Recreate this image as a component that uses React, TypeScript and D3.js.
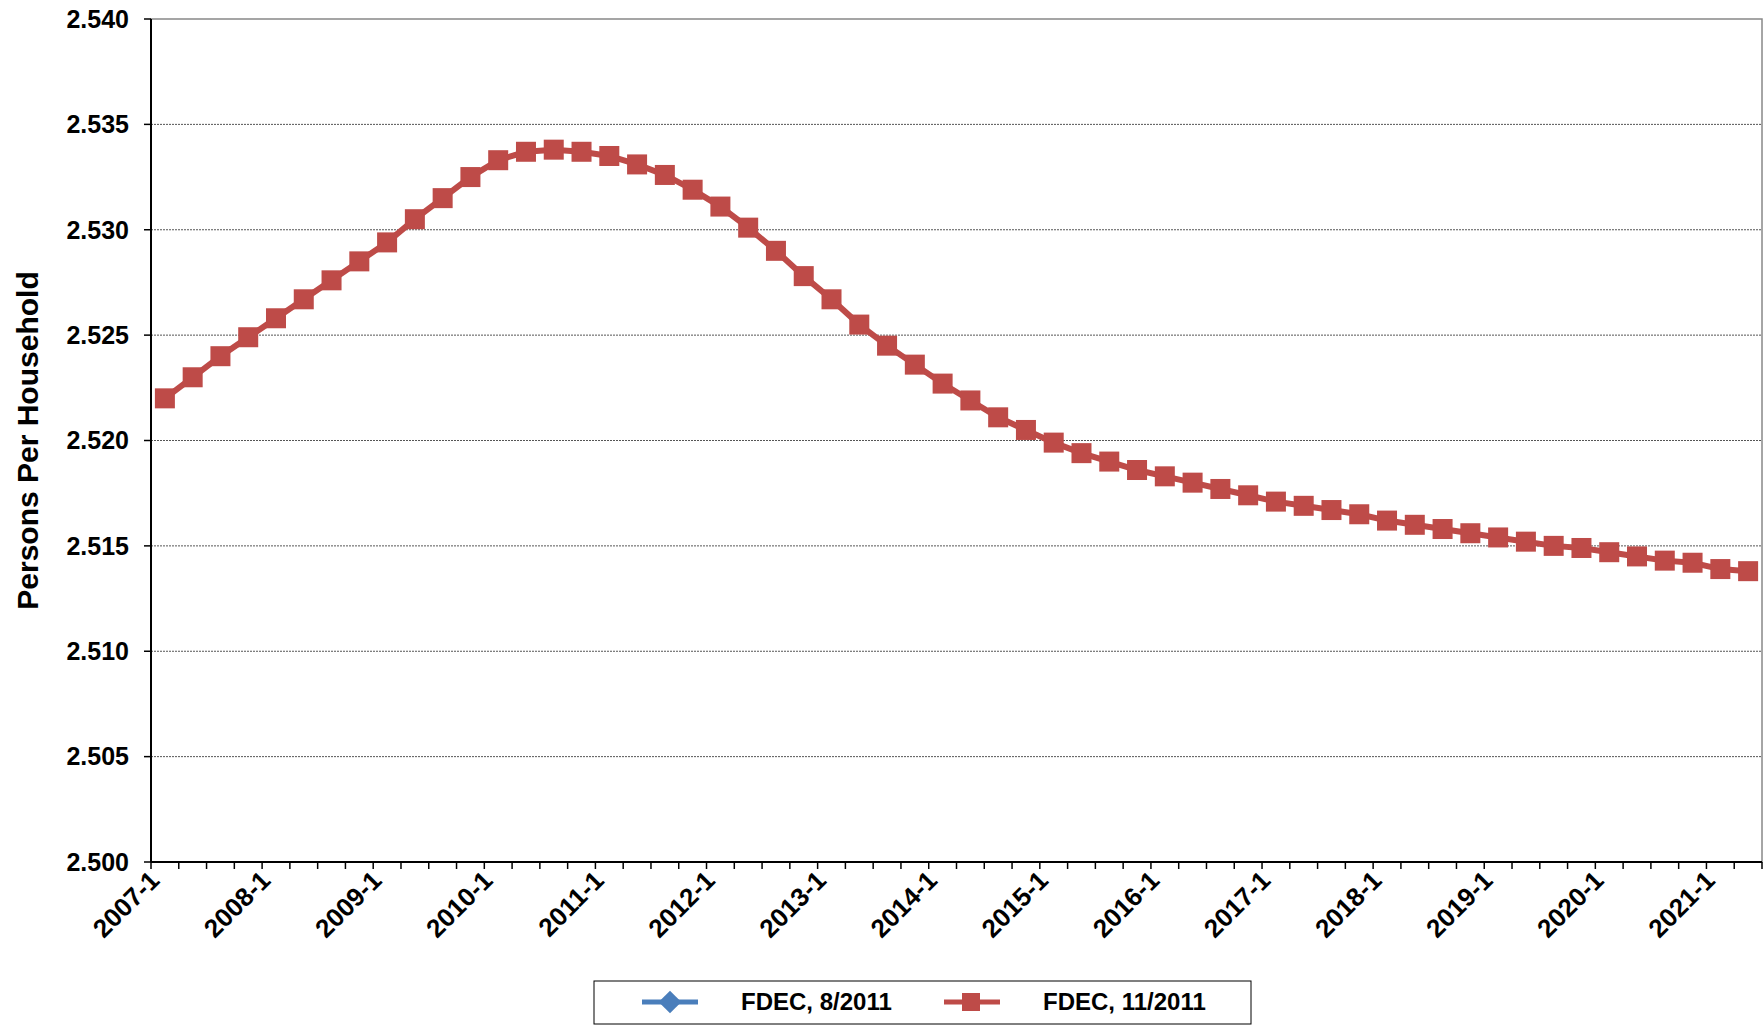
import React from "react";
import * as d3 from "d3";

const years = d3.range(2007, 2022);
const quarters = years.flatMap((y) => [1, 2, 3, 4].map((q) => `${y}-${q}`)).slice(0, 58);
const values = [
  2.522, 2.523, 2.524, 2.5249, 2.5258, 2.5267, 2.5276, 2.5285, 2.5294, 2.5305,
  2.5315, 2.5325, 2.5333, 2.5337, 2.5338, 2.5337, 2.5335, 2.5331, 2.5326, 2.5319,
  2.5311, 2.5301, 2.529, 2.5278, 2.5267, 2.5255, 2.5245, 2.5236, 2.5227, 2.5219,
  2.5211, 2.5205, 2.5199, 2.5194, 2.519, 2.5186, 2.5183, 2.518, 2.5177, 2.5174,
  2.5171, 2.5169, 2.5167, 2.5165, 2.5162, 2.516, 2.5158, 2.5156, 2.5154, 2.5152,
  2.515, 2.5149, 2.5147, 2.5145, 2.5143, 2.5142, 2.5139, 2.5138,
];
const yTicks = [2.5, 2.505, 2.51, 2.515, 2.52, 2.525, 2.53, 2.535, 2.54];

const W = 1764, H = 1031;
const m = { left: 151, right: 1762, top: 19, bottom: 862 };
const RED = "#be4b48";
const BLUE = "#4a7ebb";
const font = "'Liberation Sans', Arial, sans-serif";

export default function App() {
  const x = d3.scaleBand<string>().domain(quarters).range([m.left, m.right]);
  const y = d3.scaleLinear().domain([2.5, 2.54]).range([m.bottom, m.top]);
  const line = d3
    .line<number>()
    .x((_, i) => x(quarters[i])! + x.bandwidth() / 2)
    .y((d) => y(d));
  const s = 20;
  return (
    <svg width={W} height={H} style={{ position: "absolute", left: 0, top: 0, background: "#fff" }} fontFamily={font}>
      {yTicks.slice(1, -1).map((t) => (
        <line key={t} x1={m.left} x2={m.right} y1={y(t)} y2={y(t)} stroke="#555" strokeWidth={1} strokeDasharray="2,1" />
      ))}
      <rect x={m.left} y={m.top} width={m.right - m.left} height={m.bottom - m.top} fill="none" stroke="#888" strokeWidth={1.5} />
      <line x1={m.left} x2={m.left} y1={m.top} y2={m.bottom} stroke="#000" strokeWidth={2} />
      <line x1={m.left} x2={m.right} y1={m.bottom} y2={m.bottom} stroke="#000" strokeWidth={2} />
      {yTicks.map((t) => (
        <g key={t}>
          <line x1={m.left - 7} x2={m.left} y1={y(t)} y2={y(t)} stroke="#000" strokeWidth={1.5} />
          <text x={m.left - 22} y={y(t)} dy="0.35em" textAnchor="end" fontSize={25} fontWeight="bold">
            {t.toFixed(3)}
          </text>
        </g>
      ))}
      {quarters.concat(["end"]).map((q, i) => {
        const xx = i < quarters.length ? x(q)! : m.right;
        return <line key={q} x1={xx} x2={xx} y1={m.bottom} y2={m.bottom + 7} stroke="#000" strokeWidth={1.5} />;
      })}
      {quarters.filter((q) => q.endsWith("-1")).map((q) => (
        <text key={q} transform={`translate(${x(q)! + 10},${m.bottom + 20}) rotate(-45)`} textAnchor="end" fontSize={26} fontWeight="bold">
          {q}
        </text>
      ))}
      <text transform={`translate(38,${(m.top + m.bottom) / 2}) rotate(-90)`} textAnchor="middle" fontSize={30} fontWeight="bold">
        Persons Per Household
      </text>
      <path d={line(values)!} fill="none" stroke={RED} strokeWidth={6} />
      {values.map((v, i) => (
        <rect key={i} x={x(quarters[i])! + x.bandwidth() / 2 - s / 2} y={y(v) - s / 2} width={s} height={s} fill={RED} />
      ))}
      <rect x={594} y={981} width={657} height={43} fill="#fff" stroke="#000" strokeWidth={1} />
      <line x1={642} x2={698} y1={1002} y2={1002} stroke={BLUE} strokeWidth={5} />
      <rect x={662} y={994} width={16} height={16} fill={BLUE} transform="rotate(45 670 1002)" />
      <text x={741} y={1002} dy="0.35em" fontSize={24} fontWeight="bold">FDEC, 8/2011</text>
      <line x1={944} x2={1000} y1={1002} y2={1002} stroke={RED} strokeWidth={5} />
      <rect x={962} y={993} width={18} height={18} fill={RED} />
      <text x={1043} y={1002} dy="0.35em" fontSize={24} fontWeight="bold">FDEC, 11/2011</text>
    </svg>
  );
}
